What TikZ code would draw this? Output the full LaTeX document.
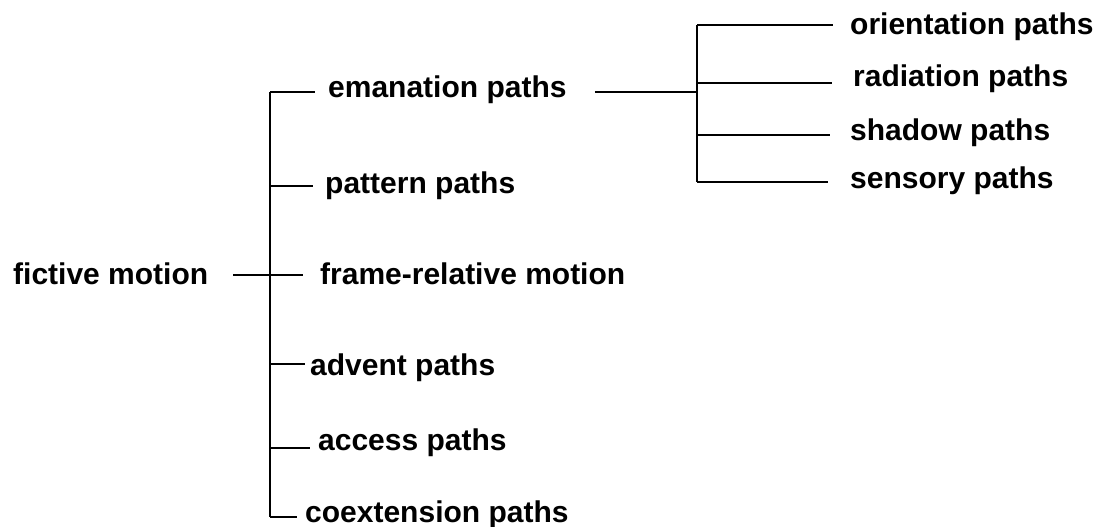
\documentclass[tikz,border=0pt]{standalone}
\usepackage{fontspec}
\setmainfont{Liberation Sans}
\begin{document}
\begin{tikzpicture}[x=1pt,y=-1pt,
  lbl/.style={anchor=base west, inner sep=0pt, font=\fontsize{30}{36}\selectfont\bfseries},
  conn/.style={line width=1.2pt}]
\useasboundingbox (0,0) rectangle (1103,527);
% labels
\node[lbl] (fm) at (13,284) {fictive motion};
\node[lbl] (em) at (328,97) {emanation paths};
\node[lbl] (pa) at (325,193) {pattern paths};
\node[lbl] (fr) at (320,284) {frame-relative motion};
\node[lbl] (ad) at (310,375) {advent paths};
\node[lbl] (ac) at (318,450) {access paths};
\node[lbl] (co) at (305,522) {coextension paths};
\node[lbl] (or) at (850,35) {orientation paths};
\node[lbl] (ra) at (853,87) {radiation paths};
\node[lbl] (sh) at (850,140) {shadow paths};
\node[lbl] (se) at (850,188) {sensory paths};
% junctions
\coordinate (j1) at (270,92);
\coordinate (j2) at (270,186);
\coordinate (jf) at (270,275);
\coordinate (j4) at (270,364);
\coordinate (j5) at (270,448);
\coordinate (j6) at (270,517);
\coordinate (k0) at (697,92);
\coordinate (k1) at (697,25);
\coordinate (k2) at (697,83);
\coordinate (k3) at (697,135);
\coordinate (k4) at (697,182);
% main bracket
\draw[conn] (j1) -- (j6);
\draw[conn, shorten <=25pt, shorten >=17pt] (fm.east |- jf) -- (jf -| fr.west);
\draw[conn, shorten >=13pt] (j1) -- (j1 -| em.west);
\draw[conn, shorten >=12pt] (j2) -- (j2 -| pa.west);
\draw[conn, shorten >=5pt] (j4) -- (j4 -| ad.west);
\draw[conn, shorten >=8pt] (j5) -- (j5 -| ac.west);
\draw[conn, shorten >=8pt] (j6) -- (j6 -| co.west);
% sub bracket
\draw[conn, shorten <=28pt] (em.east |- k0) -- (k0);
\draw[conn] (k1) -- (k4);
\draw[conn, shorten >=17pt] (k1) -- (k1 -| or.west);
\draw[conn, shorten >=21pt] (k2) -- (k2 -| ra.west);
\draw[conn, shorten >=20pt] (k3) -- (k3 -| sh.west);
\draw[conn, shorten >=22pt] (k4) -- (k4 -| se.west);
\end{tikzpicture}
\end{document}
